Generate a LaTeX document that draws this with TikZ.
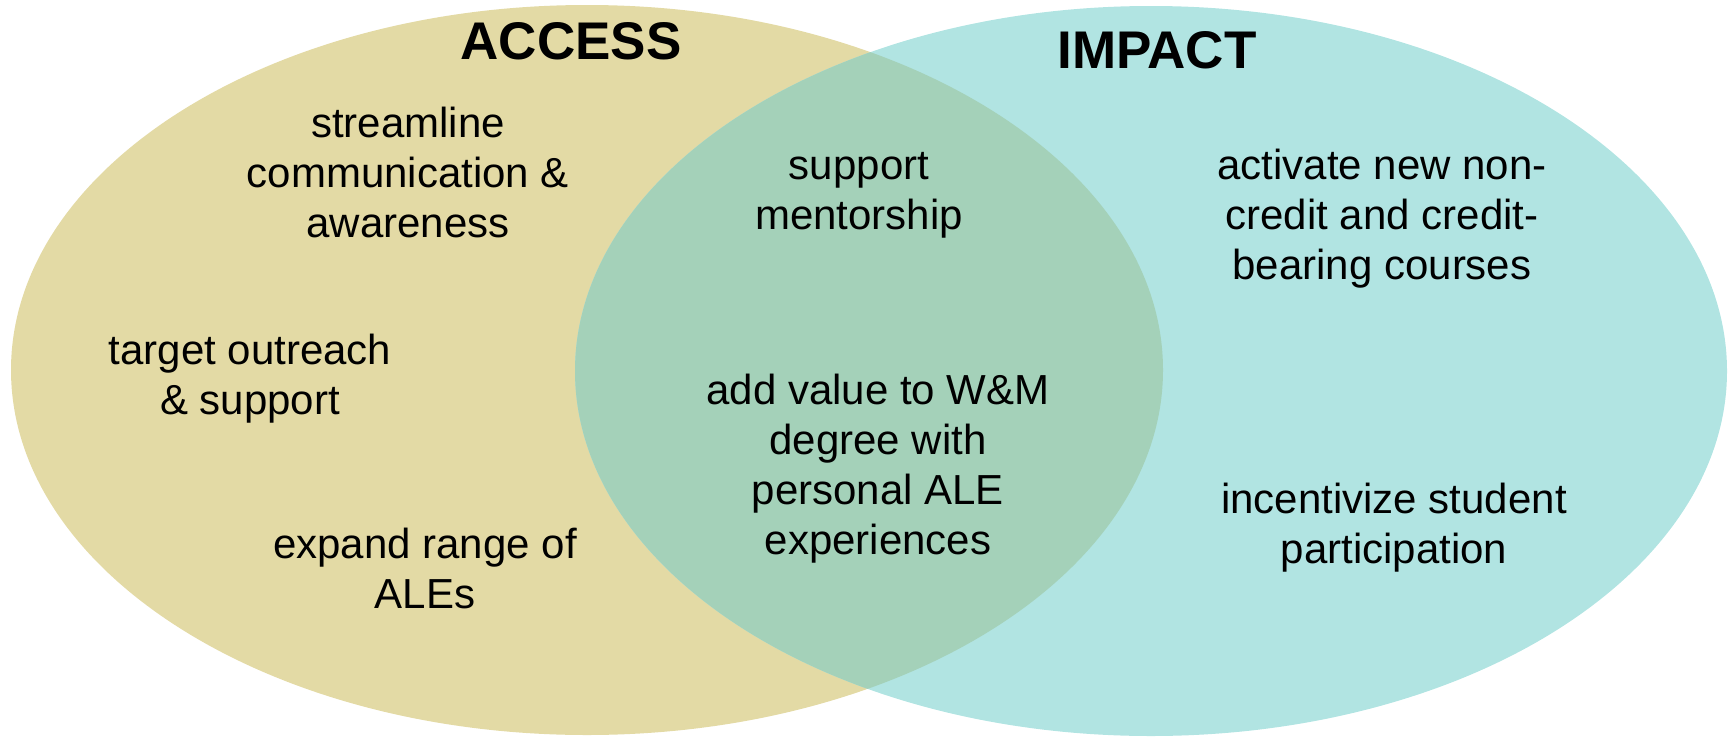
\documentclass[tikz,border=0pt]{standalone}
\usepackage{fontspec}
\setmainfont{Liberation Sans}
\definecolor{accessc}{RGB}{227,218,165}
\definecolor{impactc}{RGB}{177,228,226}
\definecolor{bothc}{RGB}{164,209,185}
\begin{document}
\begin{tikzpicture}[x=1pt,y=-1pt,
  txt/.style={align=center,inner sep=0pt,font=\fontsize{42}{50}\selectfont},
  ttl/.style={inner sep=0pt,font=\fontsize{53}{60}\selectfont\bfseries}]
\useasboundingbox (0,0) rectangle (1736,736);
\fill[accessc] (587,370) ellipse [x radius=576, y radius=365];
\fill[impactc] (1151,371) ellipse [x radius=576, y radius=365];
\begin{scope}
\clip (587,370) ellipse [x radius=576, y radius=365];
\fill[bothc] (1151,371) ellipse [x radius=576, y radius=365];
\end{scope}
\node[ttl] (access) at (571,41) {ACCESS};
\node[ttl] (impact) at (1157,50) {IMPACT};
\node[txt] (stream) at (408,172) {streamline\\communication \&\\awareness};
\node[txt] (target) at (250,379) {target outreach\\\& support};
\node[txt] (expand) at (425,568) {expand range of\\ALEs};
\node[txt] (mentor) at (859,195) {support\\mentorship};
\node[txt] (value) at (878,469) {add value to W\&M\\degree with\\personal ALE\\experiences};
\node[txt] (activate) at (1382,219) {activate new non-\\credit and credit-\\bearing courses};
\node[txt] (incent) at (1394,528) {incentivize student\\participation};
\end{tikzpicture}
\end{document}
